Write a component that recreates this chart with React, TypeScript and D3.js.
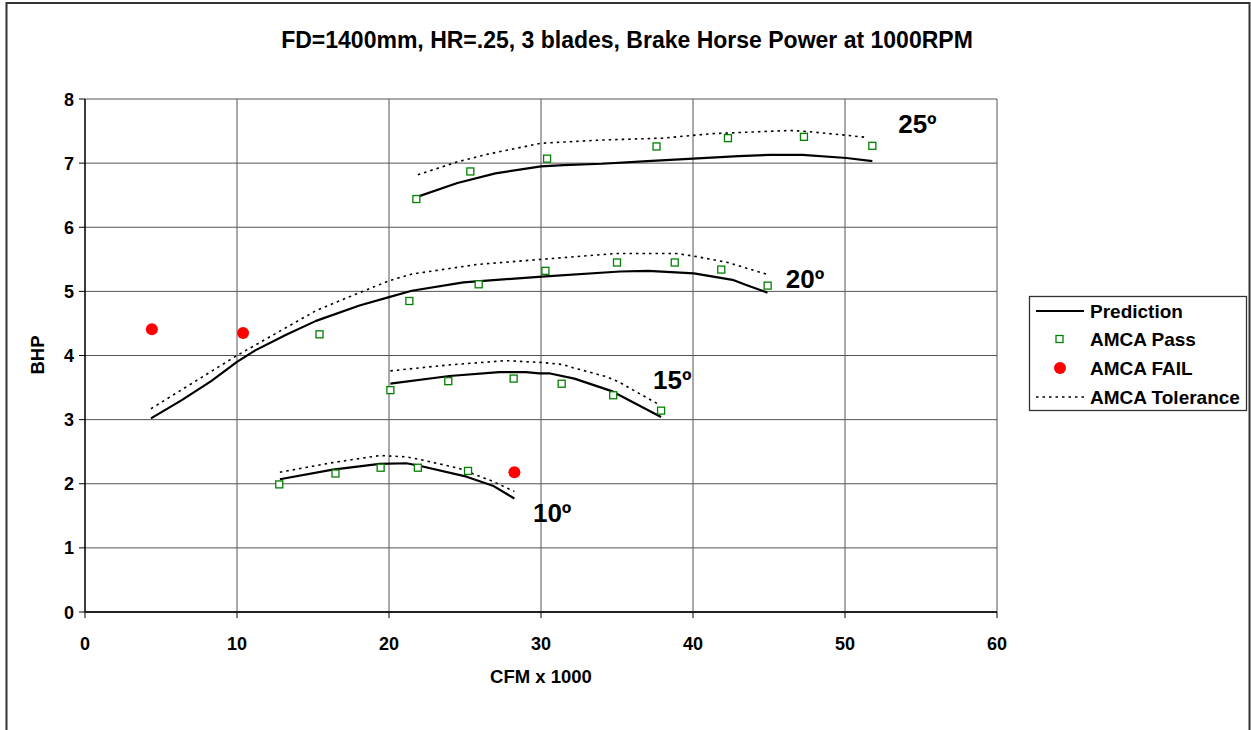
import React from "react";
import * as d3 from "d3";

type P = [number, number];

const xTicks = [0, 10, 20, 30, 40, 50, 60];
const yTicks = [0, 1, 2, 3, 4, 5, 6, 7, 8];

// Prediction curves (CFM x 1000, BHP)
const pred25: P[] = [[21.8, 6.47], [24.5, 6.69], [27, 6.84], [30, 6.95], [31.5, 6.97], [34, 6.99], [37, 7.03], [40, 7.07], [43, 7.11], [45.1, 7.13], [47.2, 7.13], [50.1, 7.08], [51.8, 7.03]];
const pred20: P[] = [[4.34, 3.02], [6.34, 3.3], [8.3, 3.6], [10, 3.9], [11.2, 4.08], [13.2, 4.32], [15.2, 4.54], [18.06, 4.78], [20, 4.91], [21.5, 5.01], [24.9, 5.14], [30.06, 5.23], [35.2, 5.31], [37.06, 5.32], [40.06, 5.28], [42.6, 5.18], [43.5, 5.1], [44.9, 4.98]];
const pred15: P[] = [[20.09, 3.56], [23.98, 3.68], [27.26, 3.74], [29.0, 3.74], [29.9, 3.72], [30.6, 3.72], [32.2, 3.64], [34.7, 3.44], [37.9, 3.04]];
const pred10: P[] = [[12.82, 2.07], [16.3, 2.22], [19.39, 2.31], [21.14, 2.32], [22.0, 2.28], [25.1, 2.11], [26.83, 1.97], [28.25, 1.77]];

// AMCA tolerance curves
const tol25: P[] = [[21.9, 6.82], [24.5, 7.02], [26.5, 7.14], [30.0, 7.31], [34, 7.36], [38.0, 7.39], [41.3, 7.46], [46.4, 7.51], [47.7, 7.49], [51.5, 7.4]];
const tol20: P[] = [[4.34, 3.17], [10, 4.0], [15.2, 4.7], [18.06, 4.98], [20.06, 5.17], [21.5, 5.27], [25.8, 5.42], [30.06, 5.5], [34.9, 5.59], [38.9, 5.59], [40.06, 5.55], [42.3, 5.45], [44.8, 5.27]];
const tol15: P[] = [[20.09, 3.76], [23.8, 3.85], [27.7, 3.92], [30.1, 3.89], [31.4, 3.86], [32.1, 3.81], [34.3, 3.67], [35.1, 3.59], [37.8, 3.23]];
const tol10: P[] = [[12.82, 2.18], [16.3, 2.33], [19.39, 2.44], [21.1, 2.42], [22.2, 2.37], [24.6, 2.24], [26.8, 2.04], [28.25, 1.88]];

// AMCA pass points
const pass25: P[] = [[21.8, 6.44], [25.35, 6.87], [30.4, 7.07], [37.6, 7.26], [42.3, 7.39], [47.3, 7.41], [51.8, 7.27]];
const pass20: P[] = [[15.43, 4.33], [21.34, 4.85], [25.9, 5.11], [30.29, 5.32], [35.0, 5.45], [38.8, 5.45], [41.86, 5.34], [44.91, 5.09]];
const pass15: P[] = [[20.09, 3.46], [23.9, 3.6], [28.2, 3.64], [31.36, 3.56], [34.75, 3.38], [37.9, 3.14]];
const pass10: P[] = [[12.78, 1.99], [16.48, 2.16], [19.45, 2.25], [21.9, 2.25], [25.2, 2.2]];

// AMCA fail points
const fail: P[] = [[4.4, 4.41], [10.4, 4.35], [28.25, 2.18]];

// Curve labels
const curveLabels: { text: string; x: number; y: number }[] = [
  { text: "25º", x: 53.5, y: 7.47 },
  { text: "20º", x: 46.1, y: 5.06 },
  { text: "15º", x: 37.37, y: 3.48 },
  { text: "10º", x: 29.47, y: 1.41 },
];

const title = "FD=1400mm, HR=.25, 3 blades, Brake Horse Power at 1000RPM";
const xLabel = "CFM x 1000";
const yLabel = "BHP";
const legendItems = ["Prediction", "AMCA Pass", "AMCA FAIL", "AMCA Tolerance"];

const FONT = "'Liberation Sans', Arial, Helvetica, sans-serif";

export default function App() {
  const W = 1251, H = 730;
  const x = d3.scaleLinear().domain([0, 60]).range([85, 997]);
  const y = d3.scaleLinear().domain([0, 8]).range([612, 99]);
  const line = d3.line<P>().x((d) => x(d[0])).y((d) => y(d[1]));

  const preds = [pred25, pred20, pred15, pred10];
  const tols = [tol25, tol20, tol15, tol10];
  const passes = [...pass25, ...pass20, ...pass15, ...pass10];

  const legY = [311, 339, 368, 397];

  return (
    <svg width={W} height={H} style={{ position: "absolute", left: 0, top: 0, display: "block" }} fontFamily={FONT}>
      <rect x={0} y={0} width={W} height={H} fill="#fff" />
      <rect x={6.5} y={3} width={1243} height={740} fill="none" stroke="#333" strokeWidth={2} />
      <text x={627} y={48} textAnchor="middle" fontWeight="bold" fontSize={23}>{title}</text>

      {/* grid */}
      {xTicks.map((t) => (
        <line key={"gx" + t} x1={x(t)} x2={x(t)} y1={y(8)} y2={y(0)} stroke="#555" strokeWidth={1} />
      ))}
      {yTicks.map((t) => (
        <line key={"gy" + t} x1={x(0)} x2={x(60)} y1={y(t)} y2={y(t)} stroke="#555" strokeWidth={1} />
      ))}
      {/* axes */}
      <line x1={x(0)} x2={x(0)} y1={y(8)} y2={y(0)} stroke="#000" strokeWidth={1.3} />
      <line x1={x(0)} x2={x(60)} y1={y(0)} y2={y(0)} stroke="#222" strokeWidth={2} />
      {yTicks.map((t) => (
        <g key={"ty" + t}>
          <line x1={x(0) - 6} x2={x(0)} y1={y(t)} y2={y(t)} stroke="#000" />
          <text x={74} y={y(t) + 6.5} textAnchor="end" fontWeight="bold" fontSize={18}>{t}</text>
        </g>
      ))}
      {xTicks.map((t) => (
        <g key={"tx" + t}>
          <line x1={x(t)} x2={x(t)} y1={y(0)} y2={y(0) + 6} stroke="#000" />
          <text x={x(t)} y={650} textAnchor="middle" fontWeight="bold" fontSize={18}>{t}</text>
        </g>
      ))}
      <text x={541} y={683} textAnchor="middle" fontWeight="bold" fontSize={18.5}>{xLabel}</text>
      <text transform={`translate(44,355) rotate(-90)`} textAnchor="middle" fontWeight="bold" fontSize={18.5}>{yLabel}</text>

      {/* tolerance */}
      {tols.map((d, i) => (
        <path key={"t" + i} d={line(d) || ""} fill="none" stroke="#000" strokeWidth={1.6} strokeDasharray="2.5,4" />
      ))}
      {/* predictions */}
      {preds.map((d, i) => (
        <path key={"p" + i} d={line(d) || ""} fill="none" stroke="#000" strokeWidth={2.2} strokeLinejoin="round" />
      ))}
      {/* pass */}
      {passes.map((d, i) => (
        <rect key={"s" + i} x={x(d[0]) - 3.5} y={y(d[1]) - 3.5} width={7} height={7} fill="#fff" stroke="#008000" strokeWidth={1.3} />
      ))}
      {/* fail */}
      {fail.map((d, i) => (
        <circle key={"f" + i} cx={x(d[0])} cy={y(d[1])} r={6} fill="#ff0000" />
      ))}
      {curveLabels.map((l) => (
        <text key={l.text} x={x(l.x)} y={y(l.y)} fontWeight="bold" fontSize={26}>{l.text}</text>
      ))}

      {/* legend */}
      <rect x={1029.5} y={296.5} width={217} height={114} fill="#fff" stroke="#333" strokeWidth={1.3} />
      <line x1={1036} x2={1084} y1={legY[0]} y2={legY[0]} stroke="#000" strokeWidth={2.2} />
      <rect x={1056} y={legY[1] - 3.5} width={7} height={7} fill="#fff" stroke="#008000" strokeWidth={1.3} />
      <circle cx={1060} cy={legY[2]} r={6} fill="#ff0000" />
      <line x1={1036} x2={1084} y1={legY[3]} y2={legY[3]} stroke="#000" strokeWidth={1.6} strokeDasharray="2.5,4" />
      {legendItems.map((t, i) => (
        <text key={t} x={1090} y={legY[i] + 6.5} fontWeight="bold" fontSize={19}>{t}</text>
      ))}
    </svg>
  );
}
